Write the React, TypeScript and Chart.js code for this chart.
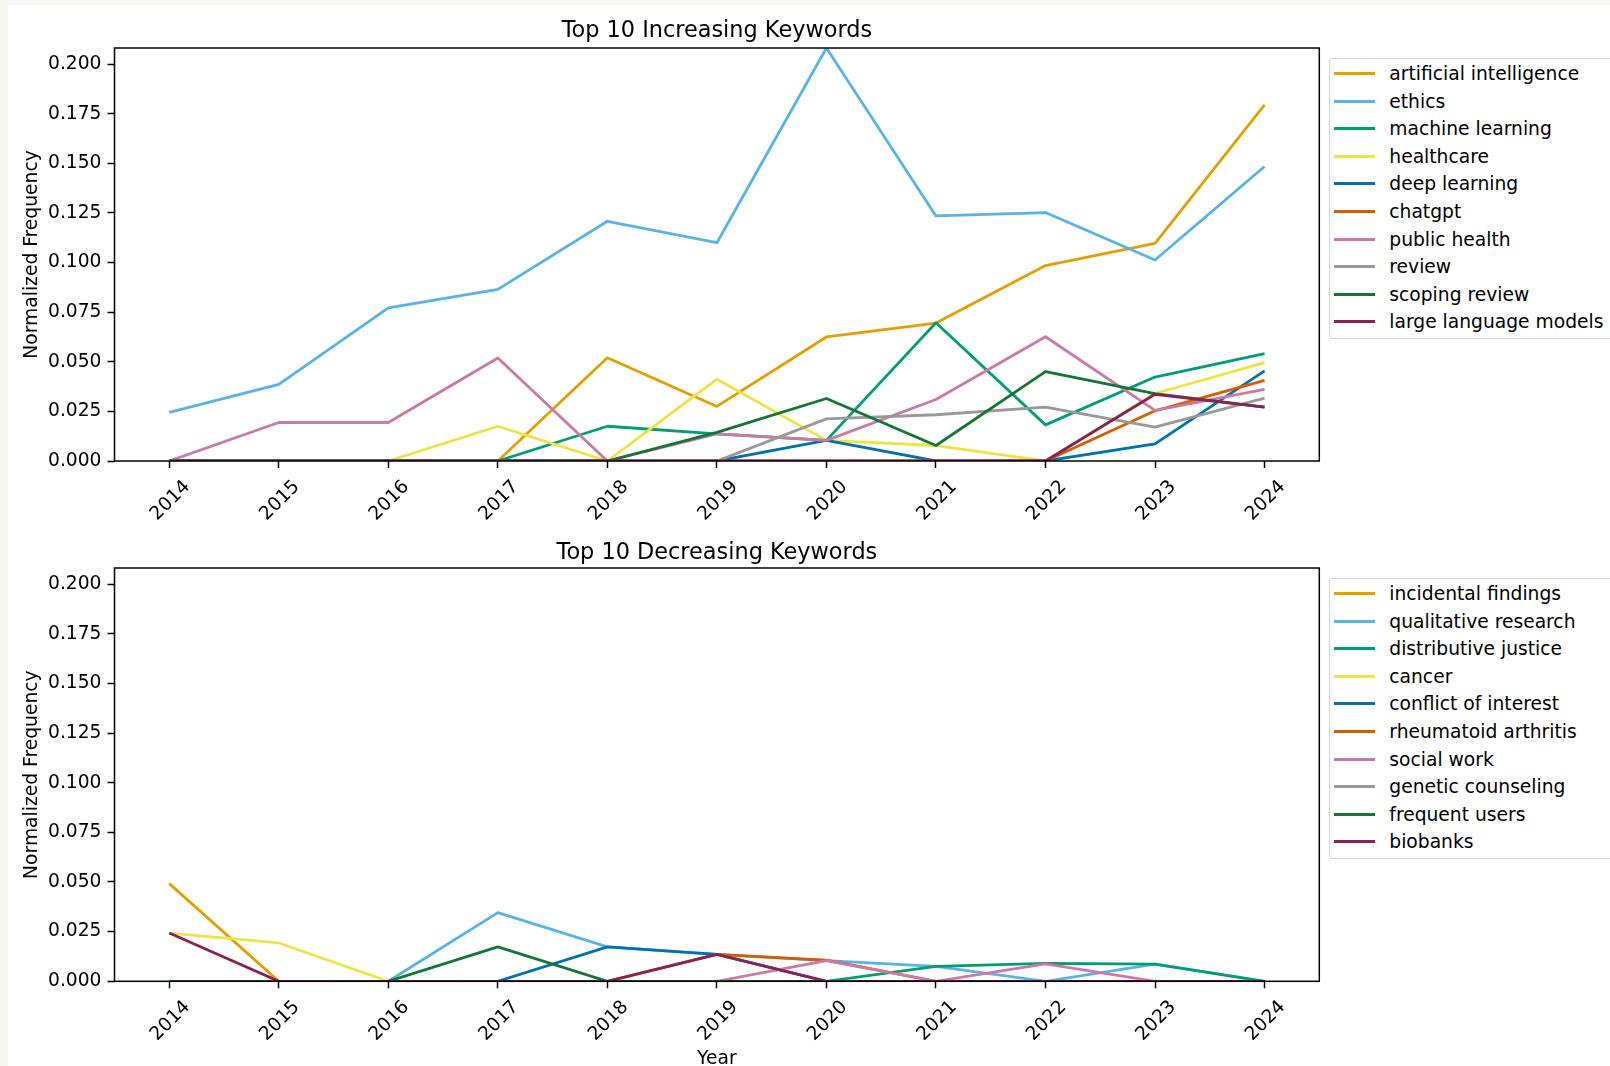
import { useEffect, useRef } from "react";
import { Chart, registerables } from "chart.js";

Chart.register(...registerables);

const FONT = "'DejaVu Sans', sans-serif";

const YEARS = ["2014", "2015", "2016", "2017", "2018", "2019", "2020", "2021", "2022", "2023", "2024"];
const Y_TICKS = [0, 0.025, 0.05, 0.075, 0.1, 0.125, 0.15, 0.175, 0.2];
const Y_MAX = 0.2081;

const PALETTE = ["#E69F00", "#56B4E9", "#009E73", "#F0E442", "#0072B2", "#D55E00", "#CC79A7", "#999999", "#117733", "#882255"];

// top 10 increasing
const INC_LABELS = ["artificial intelligence", "ethics", "machine learning", "healthcare", "deep learning", "chatgpt", "public health", "review", "scoping review", "large language models"];
const artificialIntelligence = [0, 0, 0, 0, 0.052, 0.0275, 0.0625, 0.0695, 0.0985, 0.1097, 0.1794];
const ethics = [0.0245, 0.0386, 0.0772, 0.0865, 0.1208, 0.110, 0.2081, 0.1235, 0.1252, 0.1013, 0.1484];
const machineLearning = [0, 0, 0, 0, 0.0175, 0.0137, 0.0104, 0.0697, 0.0182, 0.0423, 0.0541];
const healthcare = [0, 0, 0, 0.0175, 0, 0.0412, 0.0104, 0.0078, 0, 0.034, 0.0496];
const deepLearning = [0, 0, 0, 0, 0, 0, 0.0104, 0, 0, 0.0086, 0.0454];
const chatgpt = [0, 0, 0, 0, 0, 0, 0, 0, 0, 0.0253, 0.0406];
const publicHealth = [0, 0.0194, 0.0194, 0.0519, 0, 0.0137, 0.0104, 0.031, 0.0626, 0.0255, 0.0361];
const review = [0, 0, 0, 0, 0, 0, 0.0212, 0.0233, 0.0271, 0.0171, 0.0317];
const scopingReview = [0, 0, 0, 0, 0, 0.0144, 0.0315, 0.0078, 0.0450, 0.034, 0.0272];
const largeLanguageModels = [0, 0, 0, 0, 0, 0, 0, 0, 0, 0.0336, 0.0272];
const INC_SERIES = [artificialIntelligence, ethics, machineLearning, healthcare, deepLearning, chatgpt, publicHealth, review, scopingReview, largeLanguageModels];

// top 10 decreasing
const DEC_LABELS = ["incidental findings", "qualitative research", "distributive justice", "cancer", "conflict of interest", "rheumatoid arthritis", "social work", "genetic counseling", "frequent users", "biobanks"];
const incidentalFindings = [0.0492, 0, 0, 0, 0, 0, 0, 0, 0, 0, 0];
const qualitativeResearch = [0, 0, 0, 0.0346, 0.0173, 0.0136, 0.0104, 0.0075, 0, 0.0086, 0];
const distributiveJustice = [0, 0, 0, 0, 0, 0, 0, 0.0075, 0.0090, 0.0086, 0];
const cancer = [0.0243, 0.0193, 0, 0, 0, 0, 0, 0, 0, 0, 0];
const conflictOfInterest = [0, 0, 0, 0, 0.0173, 0.0136, 0, 0, 0, 0, 0];
const rheumatoidArthritis = [0, 0, 0, 0, 0, 0.0136, 0.0106, 0, 0, 0, 0];
const socialWork = [0, 0, 0, 0, 0, 0, 0.0104, 0, 0.0088, 0, 0];
const geneticCounseling = [0, 0, 0, 0, 0, 0, 0, 0, 0, 0, 0];
const frequentUsers = [0, 0, 0, 0.0173, 0, 0, 0, 0, 0, 0, 0];
const biobanks = [0.0243, 0, 0, 0, 0, 0.0136, 0, 0, 0, 0, 0];
const DEC_SERIES = [incidentalFindings, qualitativeResearch, distributiveJustice, cancer, conflictOfInterest, rheumatoidArthritis, socialWork, geneticCounseling, frequentUsers, biobanks];

const CANVAS_W = 1325;
const AXIS_LEFT = 114.5;
const AXIS_RIGHT = 1319.3;

const framePlugin = {
  id: "frame",
  afterDatasetsDraw(chart: any) {
    const { ctx, chartArea: a } = chart;
    ctx.save();
    ctx.strokeStyle = "#000";
    ctx.lineWidth = 1.5;
    ctx.strokeRect(a.left, a.top, a.right - a.left, a.bottom - a.top);
    ctx.restore();
  },
};

type PanelProps = {
  labels: string[];
  series: number[][];
  height: number;
  padTop: number;
  xHeight: number;
  xTitle?: string;
};

function KeywordChart({ labels, series, height, padTop, xHeight, xTitle }: PanelProps) {
  const canvasRef = useRef<HTMLCanvasElement>(null);

  useEffect(() => {
    if (!canvasRef.current) return;
    const chart = new Chart(canvasRef.current, {
      type: "line",
      data: {
        labels: YEARS,
        datasets: series.map((s, i) => ({
          label: labels[i],
          data: s,
          borderColor: PALETTE[i],
          backgroundColor: PALETTE[i],
          borderWidth: 2.8,
          pointRadius: 0,
          tension: 0,
          borderJoinStyle: "round" as const,
          clip: 0,
          order: -i,
        })),
      },
      options: {
        responsive: false,
        animation: false,
        events: [],
        layout: { padding: { top: padTop, right: CANVAS_W - AXIS_RIGHT, left: 0, bottom: 0 } },
        plugins: { legend: { display: false }, tooltip: { enabled: false }, title: { display: false } },
        scales: {
          x: {
            type: "category",
            offset: true,
            afterFit: (s: any) => { s.height = xHeight; },
            grid: { drawOnChartArea: false, drawTicks: true, tickLength: 7, tickWidth: 1.5, tickColor: "#000", offset: false },
            border: { display: false },
            ticks: {
              color: "#000",
              font: { family: FONT, size: 18.7 },
              minRotation: 45,
              maxRotation: 45,
              autoSkip: false,
              padding: 8,
              labelOffset: 18,
            },
            title: {
              display: !!xTitle,
              text: xTitle || "",
              color: "#000",
              font: { family: FONT, size: 18.7 },
              padding: { top: 0, bottom: 0 },
            },
          },
          y: {
            min: 0,
            max: Y_MAX,
            afterFit: (s: any) => { s.width = AXIS_LEFT; },
            afterBuildTicks: (s: any) => { s.ticks = Y_TICKS.map((v) => ({ value: v })); },
            grid: { drawOnChartArea: false, drawTicks: true, tickLength: 7, tickWidth: 1.5, tickColor: "#000" },
            border: { display: false },
            ticks: {
              color: "#000",
              font: { family: FONT, size: 18.7 },
              padding: 6,
              callback: (v: any) => Number(v).toFixed(3),
            },
            title: {
              display: true,
              text: "Normalized Frequency",
              color: "#000",
              font: { family: FONT, size: 18.7 },
              padding: { top: 21, bottom: 0 },
            },
          },
        },
      },
      plugins: [framePlugin],
    });
    return () => chart.destroy();
  }, [labels, series, height, padTop, xHeight, xTitle]);

  return <canvas ref={canvasRef} width={CANVAS_W} height={height} style={{ display: "block" }} />;
}

function Legend({ labels, top }: { labels: string[]; top: number }) {
  return (
    <div
      style={{
        position: "absolute",
        left: 1329,
        top,
        width: 290,
        height: 279,
        border: "1px solid rgba(204,204,204,0.8)",
        borderRadius: 4,
        background: "rgba(255,255,255,0.8)",
        fontFamily: FONT,
        fontSize: 18.7,
        color: "#000",
      }}
    >
      {labels.map((l, i) => (
        <div
          key={l}
          style={{ position: "absolute", left: 0, top: Math.round(i * 27.6), height: 28, display: "flex", alignItems: "center", whiteSpace: "nowrap" }}
        >
          <span style={{ display: "inline-block", marginLeft: 4, width: 41, height: 3, background: PALETTE[i] }} />
          <span style={{ marginLeft: 14.3 }}>{l}</span>
        </div>
      ))}
    </div>
  );
}

function PanelTitle({ text, top }: { text: string; top: number }) {
  return (
    <div
      style={{
        position: "absolute",
        left: AXIS_LEFT,
        width: AXIS_RIGHT - AXIS_LEFT,
        top,
        lineHeight: "26px",
        textAlign: "center",
        fontFamily: FONT,
        fontSize: 22.4,
        color: "#000",
      }}
    >
      {text}
    </div>
  );
}

export default function App() {
  return (
    <div style={{ position: "relative", width: 1610, height: 1066, overflow: "hidden", background: "#f9f7f2" }}>
      <style>{"body{margin:0}"}</style>
      <div style={{ position: "absolute", left: 8, top: 5, right: 0, bottom: 0, background: "#fff" }} />
      <div style={{ position: "absolute", left: 0, top: 0 }}>
        <KeywordChart labels={INC_LABELS} series={INC_SERIES} height={535} padTop={48} xHeight={74} />
      </div>
      <div style={{ position: "absolute", left: 0, top: 530 }}>
        <KeywordChart labels={DEC_LABELS} series={DEC_SERIES} height={540} padTop={38} xHeight={88.7} xTitle="Year" />
      </div>
      <PanelTitle text="Top 10 Increasing Keywords" top={16} />
      <PanelTitle text="Top 10 Decreasing Keywords" top={537.5} />
      <Legend labels={INC_LABELS} top={58} />
      <Legend labels={DEC_LABELS} top={578} />
    </div>
  );
}
